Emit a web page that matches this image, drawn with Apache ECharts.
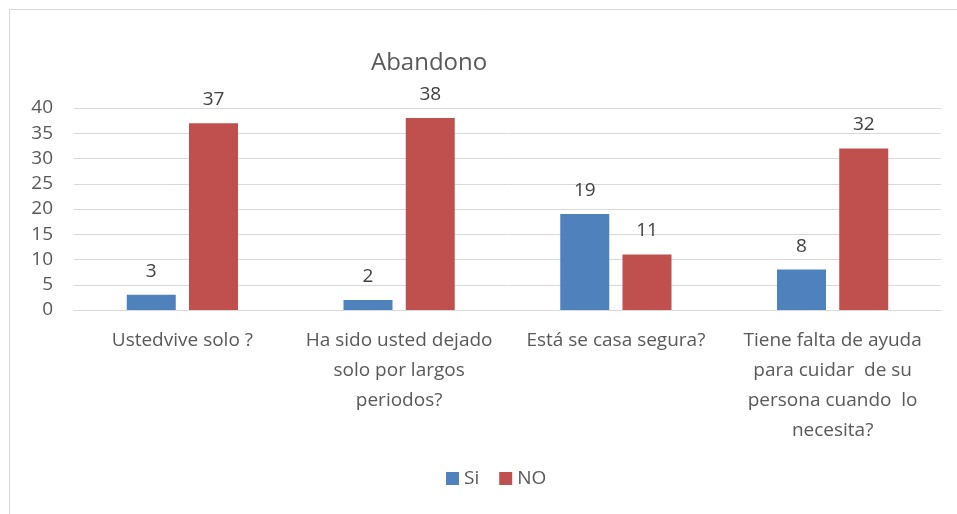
<!DOCTYPE html>
<html>
<head>
<meta charset="utf-8">
<script src="https://cdn.jsdelivr.net/npm/echarts@6/dist/echarts.min.js"></script>
<style>
  html, body { margin: 0; padding: 0; background: #fff; }
  #chart { width: 957px; height: 514px; }
</style>
</head>
<body>
<div id="chart"></div>
<script>
// categories (line breaks as wrapped in the original)
var categories = [
    'Ustedvive solo ?',
    'Ha sido usted dejado\nsolo por largos\nperiodos?',
    'Está se casa segura?',
    'Tiene falta de ayuda\npara cuidar  de su\npersona cuando  lo\nnecesita?'
];
var siValues = [3, 2, 19, 8];
var noValues = [37, 38, 11, 32];
var yTicks = { min: 0, max: 40, interval: 5 };

var font = 'Open Sans';
var chart = echarts.init(document.getElementById('chart'));

chart.setOption({
    animation: false,
    title: {
        text: 'Abandono',
        left: 366,
        top: 46,
        textStyle: { fontFamily: font, fontSize: 24, fontWeight: 'normal', color: '#595959' }
    },
    graphic: [{
        type: 'rect',
        shape: { x: 9.5, y: 9.5, width: 960, height: 520 },
        style: { fill: null, stroke: '#d9d9d9', lineWidth: 1 },
        silent: true
    }],
    legend: {
        bottom: 21,
        left: 441,
        itemWidth: 13,
        itemHeight: 13,
        itemGap: 20,
        icon: 'rect',
        textStyle: { fontFamily: font, fontSize: 19, color: '#595959' },
        data: ['Si', 'NO']
    },
    grid: { left: 74, right: 16, top: 108, bottom: 204 },
    xAxis: {
        type: 'category',
        data: categories,
        axisLine: { lineStyle: { color: '#d9d9d9' } },
        axisTick: { show: false },
        axisLabel: {
            fontFamily: font, fontSize: 19, color: '#595959',
            lineHeight: 30, margin: 16, interval: 0
        }
    },
    yAxis: {
        type: 'value',
        min: yTicks.min,
        max: yTicks.max,
        interval: yTicks.interval,
        axisLine: { show: false },
        axisTick: { show: false },
        splitLine: { lineStyle: { color: '#d9d9d9', width: 1 } },
        axisLabel: { fontFamily: font, fontSize: 19, color: '#595959', margin: 21 }
    },
    series: [{
        name: 'Si',
        type: 'bar',
        data: siValues,
        barWidth: 49,
        barGap: '27%',
        itemStyle: { color: '#4f81bd' },
        label: { show: true, position: 'top', distance: 14, fontFamily: font, fontSize: 19, color: '#404040' }
    }, {
        name: 'NO',
        type: 'bar',
        data: noValues,
        barWidth: 49,
        barGap: '27%',
        itemStyle: { color: '#c0504d' },
        label: { show: true, position: 'top', distance: 14, fontFamily: font, fontSize: 19, color: '#404040' }
    }]
});
</script>
</body>
</html>
